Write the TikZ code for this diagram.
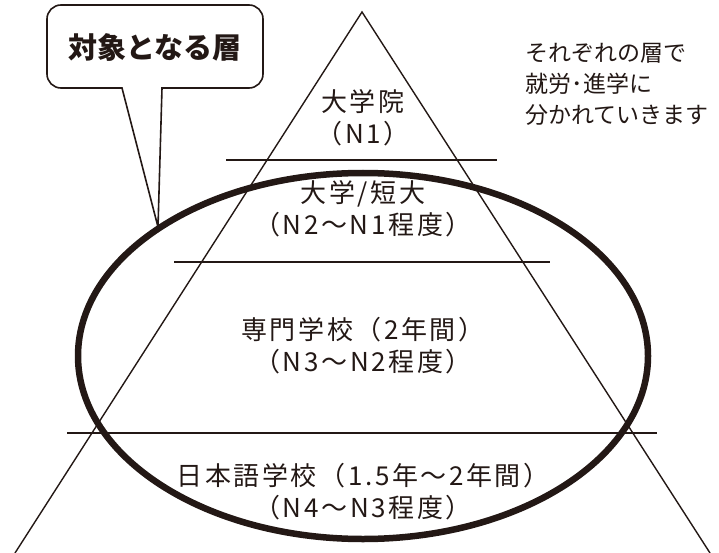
\documentclass[tikz,border=0pt]{standalone}
\usepackage{fontspec}
\setmainfont{Noto Sans CJK JP}
\newfontfamily\layerfont[LetterSpace=10]{Noto Sans CJK JP}
\definecolor{ink}{HTML}{231815}
\tikzset{
	layerline/.style={line width=1.4pt, color=ink},
	label/.style={align=center, text=ink, font=\fontsize{26}{32}\layerfont},
}

\begin{document}
\begin{tikzpicture}[x=1pt, y=-1pt]
			%%%%% START %%%%%
			\useasboundingbox (0, 0) rectangle (719, 553);
			
			% pyramid
			\draw[layerline] (15, 553) -- (362, 12) -- (710, 553);
			\draw[layerline] (226, 160) -- (497, 160);
			\draw[layerline] (174, 262) -- (550, 262);
			\draw[layerline] (67, 433) -- (657, 433);
			
			% target
			\draw[line width=6.5pt, color=ink] (363, 356) ellipse (285 and 183);
			
			\draw[line width=1.6pt, color=ink, fill=white] (162, 88) [rounded corners=14pt] -- (263, 88) -- (263, 5) -- (47, 5) -- (47, 88) [sharp corners] -- (122, 88) -- (158, 227) -- cycle;
			\node[text=ink, font=\fontsize{29}{34}\selectfont\bfseries] (taisho) at (155, 47) {対象となる層};
			
			\node[label] (gakuin) at (363, 118) {大学院\\（N1）};
			\node[label] (daigaku) at (363, 209) {大学/短大\\（N2〜N1程度）};
			\node[label] (senmon) at (363, 346) {専門学校（2年間）\\（N3〜N2程度）};
			\node[label] (nihongo) at (363, 492) {日本語学校（1.5年〜2年間）\\（N4〜N3程度）};
			
			\node[text=ink, align=left, anchor=west, font=\fontsize{23}{31}\selectfont] (shinro) at (522, 84) {それぞれの層で\\就労･進学に\\分かれていきます};
			
			%%%%% END %%%%%
		\end{tikzpicture}
\end{document}
